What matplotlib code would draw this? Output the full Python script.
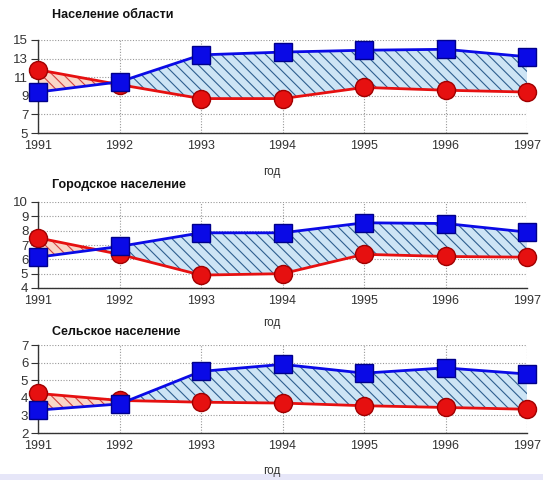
import matplotlib
matplotlib.use("Agg")
import matplotlib.pyplot as plt
import numpy as np

years = [1991, 1992, 1993, 1994, 1995, 1996, 1997]

titles = ["Население области", "Городское население", "Сельское население"]
xlabel = "год"

total_blue = [9.4, 10.5, 13.4, 13.7, 13.9, 14.0, 13.2]
total_red = [11.8, 10.2, 8.7, 8.7, 9.9, 9.6, 9.4]

urban_blue = [6.15, 6.9, 7.85, 7.85, 8.55, 8.5, 7.9]
urban_red = [7.5, 6.35, 4.9, 5.0, 6.35, 6.2, 6.15]

rural_blue = [3.3, 3.65, 5.5, 5.9, 5.4, 5.7, 5.35]
rural_red = [4.25, 3.85, 3.75, 3.7, 3.55, 3.45, 3.35]

yticks_list = [[5, 7, 9, 11, 13, 15], [4, 5, 6, 7, 8, 9, 10], [2, 3, 4, 5, 6, 7]]
blue_series = [total_blue, urban_blue, rural_blue]
red_series = [total_red, urban_red, rural_red]

plt.rcParams['font.family'] = ['Liberation Sans', 'DejaVu Sans']
plt.rcParams['hatch.linewidth'] = 0.8

fig = plt.figure(figsize=(5.43, 4.80), dpi=100)
W, H = 543, 480

# pixel boxes: (left, right, top, bottom)
boxes = [(38, 527, 40, 133), (38, 527, 202, 288), (38, 527, 345, 433)]
title_y = [15, 185, 332]
xlabel_y = [172, 323, 471]

BLUE = '#0a0ae6'
RED = '#e61010'

for i in range(3):
    l, r, t, b = boxes[i]
    ax = fig.add_axes([l / W, 1 - b / H, (r - l) / W, (b - t) / H])
    x = np.array(years, dtype=float)
    yb = np.array(blue_series[i])
    yr = np.array(red_series[i])

    ax.fill_between(x, yb, yr, where=yb >= yr, interpolate=True,
                    facecolor='#cde4f5', edgecolor='#2f5f8f', hatch='\\\\\\', linewidth=0, zorder=2)
    ax.fill_between(x, yb, yr, where=yr >= yb, interpolate=True,
                    facecolor='#f9d6c8', edgecolor='#d04040', hatch='\\\\\\', linewidth=0, zorder=2)

    ax.plot(x, yr, color=RED, lw=2, marker='o', markersize=13,
            markerfacecolor=RED, markeredgecolor='#a00000', markeredgewidth=1, zorder=3, clip_on=False)
    ax.plot(x, yb, color=BLUE, lw=2, marker='s', markersize=12.5,
            markerfacecolor=BLUE, markeredgecolor='#00008a', markeredgewidth=1, zorder=4, clip_on=False)

    yt = yticks_list[i]
    ax.set_xlim(years[0], years[-1])
    ax.set_ylim(yt[0], yt[-1])
    ax.set_xticks(years)
    ax.set_xticklabels([str(y) for y in years])
    ax.set_yticks(yt)
    ax.set_yticklabels([str(v) for v in yt])

    ax.grid(True, linestyle=(0, (1, 1.5)), color='#999999', linewidth=0.8, zorder=1)
    ax.set_axisbelow(True)
    for s in ['top', 'right']:
        ax.spines[s].set_visible(False)
    ax.spines['left'].set_color('#333333')
    ax.spines['bottom'].set_color('#333333')
    ax.spines['left'].set_linewidth(1.0)
    ax.spines['bottom'].set_linewidth(1.0)
    ax.tick_params(axis='y', direction='out', length=5, pad=2, labelsize=9.5, colors='#333333')
    ax.tick_params(axis='x', direction='out', length=0, pad=5, labelsize=9, colors='#333333')

    fig.text(52 / W, 1 - title_y[i] / H, titles[i], fontsize=9, fontweight='bold',
             ha='left', va='center', color='#111111')
    fig.text(272 / W, 1 - xlabel_y[i] / H, xlabel, fontsize=8.5, ha='center', va='center',
             color='#333333')

# light band at the bottom
fig.patches.append(matplotlib.patches.Rectangle((0, 0), 1, 6 / H, transform=fig.transFigure,
                                                facecolor='#e6e6f8', edgecolor='none'))

fig.savefig("out.png", dpi=100)
